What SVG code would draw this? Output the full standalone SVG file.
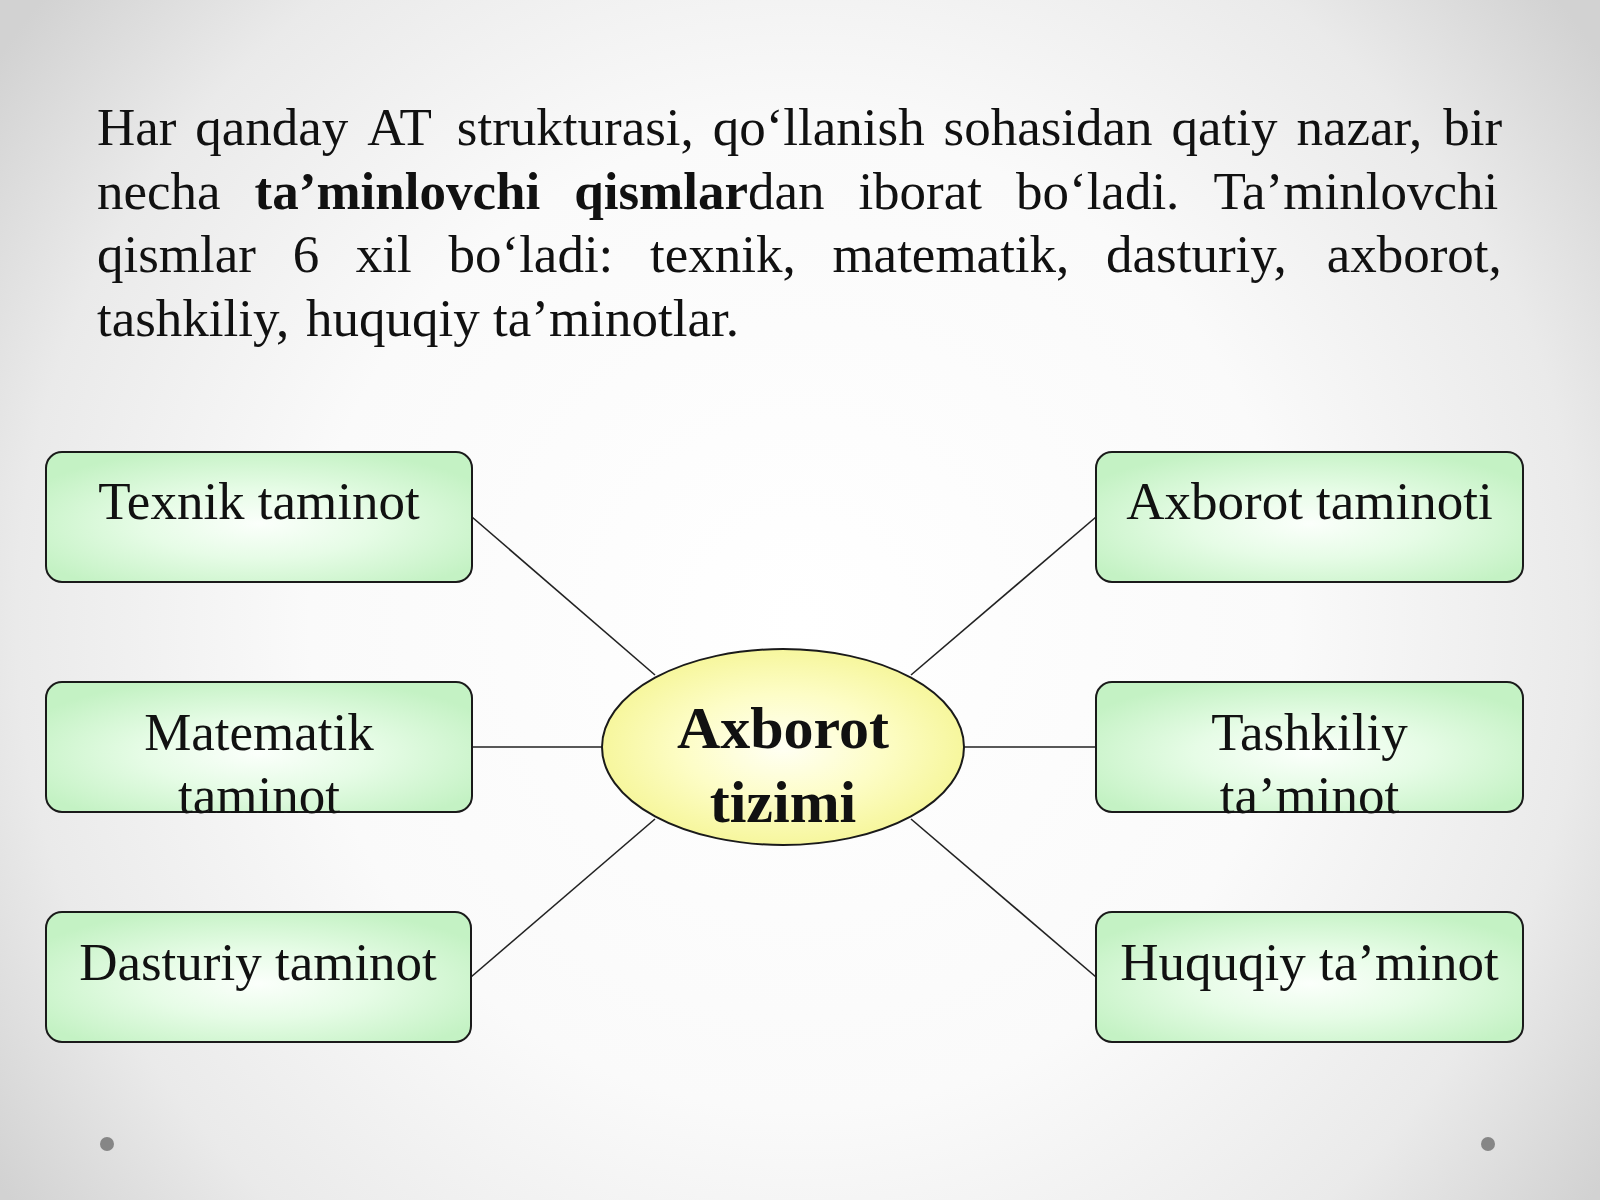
<svg xmlns="http://www.w3.org/2000/svg" width="1600" height="1200" viewBox="0 0 1600 1200">
  <defs>
    <radialGradient id="bg" gradientUnits="userSpaceOnUse" cx="800" cy="620" r="980">
      <stop offset="0" stop-color="#ffffff"/>
      <stop offset="0.5" stop-color="#fafafa"/>
      <stop offset="0.8" stop-color="#eaeaea"/>
      <stop offset="1" stop-color="#d2d2d2"/>
    </radialGradient>
    <radialGradient id="boxFill" cx="0.5" cy="0.55" r="0.6">
      <stop offset="0" stop-color="#fbfffb"/>
      <stop offset="0.45" stop-color="#e6fce6"/>
      <stop offset="1" stop-color="#c4f2c4"/>
    </radialGradient>
    <radialGradient id="ellFill" cx="0.5" cy="0.5" r="0.55">
      <stop offset="0" stop-color="#fffff4"/>
      <stop offset="0.5" stop-color="#fdfdc6"/>
      <stop offset="1" stop-color="#f5f594"/>
    </radialGradient>
  </defs>
  <style>
    .para { font-family: "Liberation Serif", "Times New Roman", serif; font-size: 53px; fill: #111; }
    .b { font-weight: bold; }
    .box { fill: url(#boxFill); stroke: #1a1a1a; stroke-width: 2; }
    .lbl { font-family: "Liberation Serif", "Times New Roman", serif; font-size: 53px; fill: #111; text-anchor: middle; }
    .ctr { font-family: "Liberation Serif", "Times New Roman", serif; font-size: 60px; font-weight: bold; fill: #111; text-anchor: middle; }
    .conn { stroke: #222; stroke-width: 1.6; fill: none; }
    .dot { fill: #868686; }
  </style>

  <rect x="0" y="0" width="1600" height="1200" fill="url(#bg)"/>

  <g id="paragraph">
    <text class="para" y="145"><tspan x="97">Har</tspan><tspan x="195.3">qanday</tspan><tspan x="367.2">AT</tspan><tspan x="456.8">strukturasi,</tspan><tspan x="712.7">qo‘llanish</tspan><tspan x="943.6">sohasidan</tspan><tspan x="1171.5">qatiy</tspan><tspan x="1296.4">nazar,</tspan><tspan x="1443.3">bir</tspan></text>
    <text class="para" y="209"><tspan x="97">necha</tspan><tspan x="254.6" class="b">ta’minlovchi</tspan><tspan x="574.2" class="b">qismlar</tspan><tspan>dan</tspan><tspan x="858.4">iborat</tspan><tspan x="1016">bo‘ladi.</tspan><tspan x="1213.4">Ta’minlovchi</tspan></text>
    <text class="para" y="272"><tspan x="97">qismlar</tspan><tspan x="292.7">6</tspan><tspan x="355.8">xil</tspan><tspan x="448.5">bo‘ladi:</tspan><tspan x="650">texnik,</tspan><tspan x="832.4">matematik,</tspan><tspan x="1106.1">dasturiy,</tspan><tspan x="1326.7">axborot,</tspan></text>
    <text class="para" y="336"><tspan x="97">tashkiliy,</tspan><tspan x="306.1">huquqiy</tspan><tspan x="493.1">ta’minotlar.</tspan></text>
  </g>

  <g id="connectors">
    <line class="conn" x1="472" y1="517" x2="655" y2="675"/>
    <line class="conn" x1="472" y1="747" x2="602" y2="747"/>
    <line class="conn" x1="471" y1="977" x2="655" y2="819"/>
    <line class="conn" x1="1096" y1="517" x2="911" y2="675"/>
    <line class="conn" x1="964" y1="747" x2="1096" y2="747"/>
    <line class="conn" x1="1096" y1="977" x2="911" y2="819"/>
  </g>

  <g id="node-texnik">
    <rect class="box" x="46" y="452" width="426" height="130" rx="16"/>
    <text class="lbl" x="259" y="519">Texnik taminot</text>
  </g>
  <g id="node-matematik">
    <rect class="box" x="46" y="682" width="426" height="130" rx="16"/>
    <text class="lbl" x="259" y="750">Matematik</text>
    <text class="lbl" x="259" y="813">taminot</text>
  </g>
  <g id="node-dasturiy">
    <rect class="box" x="46" y="912" width="425" height="130" rx="16"/>
    <text class="lbl" x="258" y="980">Dasturiy taminot</text>
  </g>
  <g id="node-axborot">
    <rect class="box" x="1096" y="452" width="427" height="130" rx="16"/>
    <text class="lbl" x="1309.5" y="519">Axborot taminoti</text>
  </g>
  <g id="node-tashkiliy">
    <rect class="box" x="1096" y="682" width="427" height="130" rx="16"/>
    <text class="lbl" x="1309.5" y="750">Tashkiliy</text>
    <text class="lbl" x="1309.5" y="813">ta’minot</text>
  </g>
  <g id="node-huquqiy">
    <rect class="box" x="1096" y="912" width="427" height="130" rx="16"/>
    <text class="lbl" x="1309.5" y="980">Huquqiy ta’minot</text>
  </g>

  <g id="node-center">
    <ellipse cx="783" cy="747" rx="181" ry="98" fill="url(#ellFill)" stroke="#1a1a1a" stroke-width="2"/>
    <text class="ctr" x="783" y="748">Axborot</text>
    <text class="ctr" x="783" y="822">tizimi</text>
  </g>

  <g id="dots">
    <circle class="dot" cx="107" cy="1144" r="7"/>
    <circle class="dot" cx="1488" cy="1144" r="7"/>
  </g>
</svg>
